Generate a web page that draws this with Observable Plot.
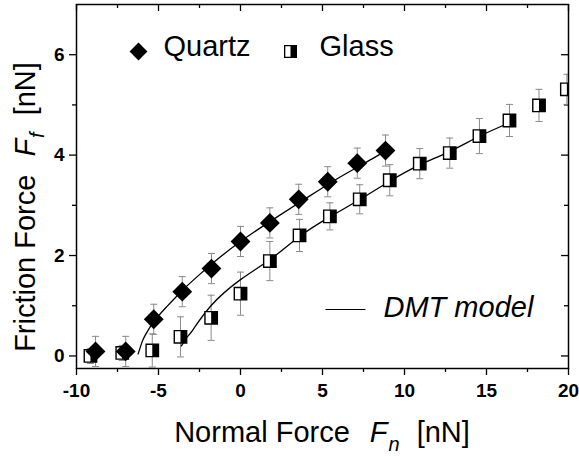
<!DOCTYPE html>
<html><head><meta charset="utf-8">
<script src="https://cdn.jsdelivr.net/npm/d3@7"></script>
<script src="https://cdn.jsdelivr.net/npm/@observablehq/plot@0.6"></script>
<style>
body{margin:0;background:#fff;}
#chart{width:579px;height:456px;}
#chart svg g[aria-label="x-axis tick label"], #chart svg g[aria-label="y-axis tick label"]{font-size:19px;font-weight:bold;}
</style></head><body><div id="chart"></div>
<script>
// ---- data ----
const quartzX   = [-8.84, -7.0, -5.29, -3.55, -1.77, 0.0, 1.79, 3.55, 5.32, 7.12, 8.84];
const quartzY   = [0.09, 0.09, 0.73, 1.28, 1.74, 2.28, 2.65, 3.12, 3.47, 3.84, 4.09];
const quartzErr = [0.3, 0.3, 0.3, 0.3, 0.3, 0.3, 0.3, 0.3, 0.3, 0.3, 0.31];

const glassX   = [-9.15, -7.21, -5.38, -3.66, -1.79, 0.0, 1.79, 3.6, 5.45, 7.27, 9.1, 10.93, 12.76, 14.57, 16.4, 18.2, 19.9];
const glassY   = [0.0, 0.06, 0.11, 0.38, 0.76, 1.24, 1.89, 2.40, 2.78, 3.12, 3.50, 3.83, 4.04, 4.38, 4.69, 4.99, 5.31];
const glassErr = [0.15, 0.15, 0.33, 0.4, 0.45, 0.43, 0.39, 0.32, 0.27, 0.29, 0.31, 0.3, 0.3, 0.35, 0.32, 0.32, 0.3];

// DMT model curves
const dmtQuartzX = [-6.24, -6.0, -5.8, -5.3, -4.5, -3.5, -2.5, -1.5, 0.0, 2.0, 4.0, 6.0, 8.0, 8.9];
const dmtQuartzY = [0.04, 0.28, 0.42, 0.68, 0.98, 1.32, 1.62, 1.9, 2.28, 2.72, 3.14, 3.55, 3.92, 4.1];
const dmtGlassX  = [-3.6, -3.3, -2.9, -1.8, 0.0, 1.8, 3.6, 5.4, 7.3, 9.1, 10.9, 12.8, 14.6, 16.3];
const dmtGlassY  = [0.2, 0.36, 0.52, 1.0, 1.52, 1.92, 2.38, 2.76, 3.12, 3.48, 3.8, 4.08, 4.38, 4.63];

const xMajor = [-10, -5, 0, 5, 10, 15, 20];
const xMajorLabels = ["-10", "-5", "0", "5", "10", "15", "20"];
const xMinor = [-7.5, -2.5, 2.5, 7.5, 12.5, 17.5];
const yMajor = [0, 2, 4, 6];
const yMajorLabels = ["0", "2", "4", "6"];
const yMinor = [1, 3, 5];

const seriesNames = ["Quartz", "Glass"];
const modelName = "DMT model";

// ---- build tables ----
const quartz = quartzX.map((x, i) => ({x, y: quartzY[i], e: quartzErr[i]}));
const glass = glassX.map((x, i) => ({x, y: glassY[i], e: glassErr[i]}));
const dmtQ = dmtQuartzX.map((x, i) => ({x, y: dmtQuartzY[i]}));
const dmtG = dmtGlassX.map((x, i) => ({x, y: dmtGlassY[i]}));

// ---- symbols ----
const diamondSym = {draw(ctx, size) { const r = Math.sqrt(size) * 0.56; ctx.moveTo(0, -r); ctx.lineTo(r, 0); ctx.lineTo(0, r); ctx.lineTo(-r, 0); ctx.closePath(); }};
const squareSym = {draw(ctx, size) { const w = Math.sqrt(size); ctx.rect(-w / 2, -w / 2, w, w); }};
const halfSym = {draw(ctx, size) { const w = Math.sqrt(size); ctx.rect(0, -w / 2, w / 2, w); }};
const capSym = {draw(ctx, size) { ctx.moveTo(-3.5, 0); ctx.lineTo(3.5, 0); }};
const legLineSym = {draw(ctx, size) { ctx.moveTo(-20, 0); ctx.lineTo(20, 0); }};

const W = 579, H = 456, mL = 76, mR = 11, mT = 4, mB = 88;
const fw = W - mL - mR, fh = H - mT - mB;
const ff = "Arial, 'Liberation Sans', sans-serif";
const errColor = "#8a8a8a";

const plot = Plot.plot({
  width: W, height: H,
  marginLeft: mL, marginRight: mR, marginTop: mT, marginBottom: mB,
  style: {fontFamily: ff, background: "white", color: "black", overflow: "hidden"},
  x: {domain: [-10, 20]},
  y: {domain: [-0.25, 7]},
  marks: [
    // axes
    Plot.axisX({ticks: xMajor, tickSize: 7, tickPadding: 8, tickFormat: d => xMajorLabels[xMajor.indexOf(d)], fontSize: 19, fontWeight: "bold", label: null, strokeWidth: 1.3}),
    Plot.axisX({ticks: xMinor, tickSize: 4, tickFormat: () => "", label: null, strokeWidth: 1.3}),
    Plot.axisY({ticks: yMajor, tickSize: 7, tickPadding: 5, tickFormat: d => yMajorLabels[yMajor.indexOf(d)], fontSize: 19, fontWeight: "bold", label: null, strokeWidth: 1.3}),
    Plot.axisY({ticks: yMinor, tickSize: 4, tickFormat: () => "", label: null, strokeWidth: 1.3}),
    // mirrored inward ticks (top, right)
    Plot.tickX(xMajor, {x: d => d, insetBottom: fh - 7, strokeWidth: 1.3}),
    Plot.tickX(xMinor, {x: d => d, insetBottom: fh - 4, strokeWidth: 1.3}),
    Plot.tickY(yMajor, {y: d => d, insetLeft: fw - 7, strokeWidth: 1.3}),
    Plot.tickY(yMinor, {y: d => d, insetLeft: fw - 4, strokeWidth: 1.3}),
    // error bars
    Plot.ruleX(glass, {x: "x", y1: d => d.y - d.e, y2: d => d.y + d.e, stroke: errColor, strokeWidth: 1, clip: true}),
    Plot.dot(glass, {x: "x", y: d => d.y + d.e, symbol: capSym, r: 3, stroke: errColor, fill: "none", strokeWidth: 1, clip: true}),
    Plot.dot(glass, {x: "x", y: d => d.y - d.e, symbol: capSym, r: 3, stroke: errColor, fill: "none", strokeWidth: 1, clip: true}),
    Plot.ruleX(quartz, {x: "x", y1: d => d.y - d.e, y2: d => d.y + d.e, stroke: errColor, strokeWidth: 1}),
    Plot.dot(quartz, {x: "x", y: d => d.y + d.e, symbol: capSym, r: 3, stroke: errColor, fill: "none", strokeWidth: 1}),
    Plot.dot(quartz, {x: "x", y: d => d.y - d.e, symbol: capSym, r: 3, stroke: errColor, fill: "none", strokeWidth: 1}),
    // DMT fits
    Plot.line(dmtG, {x: "x", y: "y", curve: "natural", stroke: "black", strokeWidth: 1.3}),
    Plot.line(dmtQ, {x: "x", y: "y", curve: "natural", stroke: "black", strokeWidth: 1.3}),
    // markers
    Plot.dot(glass, {x: "x", y: "y", symbol: squareSym, r: 7, fill: "white", stroke: "black", strokeWidth: 1.4, clip: true}),
    Plot.dot(glass, {x: "x", y: "y", symbol: halfSym, r: 7, fill: "black", stroke: "none", clip: true}),
    Plot.dot(quartz, {x: "x", y: "y", symbol: diamondSym, r: 10, fill: "black", stroke: "none"}),
    // legend
    Plot.dot([seriesNames[0]], {frameAnchor: "top-left", dx: 138 - mL, dy: 51 - mT, symbol: diamondSym, r: 9, fill: "black", stroke: "none"}),
    Plot.text([seriesNames[0]], {text: d => d, frameAnchor: "top-left", dx: 163 - mL, dy: 55 - mT, textAnchor: "start", lineAnchor: "bottom", fontSize: 29, fill: "black"}),
    Plot.dot([seriesNames[1]], {frameAnchor: "top-left", dx: 290 - mL, dy: 51 - mT, symbol: squareSym, r: 6.6, fill: "white", stroke: "black", strokeWidth: 1.3}),
    Plot.dot([seriesNames[1]], {frameAnchor: "top-left", dx: 290 - mL, dy: 51 - mT, symbol: halfSym, r: 6.6, fill: "black", stroke: "none"}),
    Plot.text([seriesNames[1]], {text: d => d, frameAnchor: "top-left", dx: 319 - mL, dy: 55 - mT, textAnchor: "start", lineAnchor: "bottom", fontSize: 29, fill: "black"}),
    Plot.dot([modelName], {frameAnchor: "top-left", dx: 345 - mL, dy: 309 - mT, symbol: legLineSym, r: 5, fill: "none", stroke: "black", strokeWidth: 1.2}),
    Plot.text([modelName], {text: d => d, frameAnchor: "top-left", dx: 383 - mL, dy: 316 - mT, textAnchor: "start", lineAnchor: "bottom", fontSize: 29, fontStyle: "italic", fill: "black"}),
    Plot.frame({stroke: "black", strokeWidth: 1.5})
  ]
});

document.getElementById("chart").appendChild(plot);

// enforce tick label styling
d3.select(plot).selectAll('g[aria-label="x-axis tick label"], g[aria-label="y-axis tick label"]')
  .attr("font-size", 19).attr("font-weight", "bold");

// axis titles with italic symbol + subscript
const svg = d3.select(plot);
const xs = plot.scale("x");
const xc = (xs.range[0] + xs.range[1]) / 2;

const xl = svg.append("text")
  .attr("x", xc).attr("y", 442)
  .attr("text-anchor", "middle").attr("font-family", ff).attr("font-size", 29).attr("fill", "black");
xl.append("tspan").text("Normal Force");
xl.append("tspan").attr("dx", 20).attr("font-style", "italic").text("F");
xl.append("tspan").attr("dx", 1).attr("dy", 9).attr("font-size", 20).attr("font-style", "italic").text("n");
xl.append("tspan").attr("dx", 17).attr("dy", -9).text("[nN]");

const yl = svg.append("text")
  .attr("transform", `translate(35,207) rotate(-90)`)
  .attr("text-anchor", "middle").attr("font-family", ff).attr("font-size", 29).attr("fill", "black");
yl.append("tspan").text("Friction Force");
yl.append("tspan").attr("dx", 18).attr("font-style", "italic").text("F");
yl.append("tspan").attr("dx", 1).attr("dy", 9).attr("font-size", 20).attr("font-style", "italic").text("f");
yl.append("tspan").attr("dx", 17).attr("dy", -9).text("[nN]");
</script>
</body></html>
